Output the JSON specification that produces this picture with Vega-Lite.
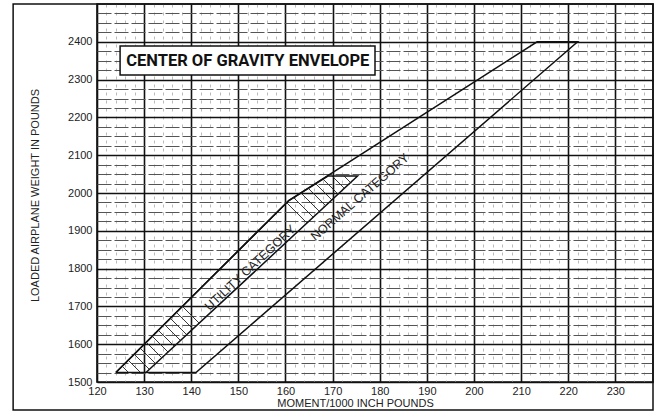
{
  "$schema": "https://vega.github.io/schema/vega-lite/v6.json",
  "width": 556,
  "height": 378,
  "autosize": {"type": "none"},
  "padding": {"left": 97, "top": 4, "right": 7, "bottom": 33},
  "background": "white",
  "config": {
    "view": {"stroke": "#111", "strokeWidth": 1.6},
    "font": "Liberation Sans"
  },
  "datasets": {
    "envelope": [
      {"env": "normal", "i": 1, "M": 124, "W": 1525},
      {"env": "normal", "i": 2, "M": 160.7, "W": 1980},
      {"env": "normal", "i": 3, "M": 213.4, "W": 2400},
      {"env": "normal", "i": 4, "M": 222, "W": 2400},
      {"env": "normal", "i": 5, "M": 141, "W": 1525},
      {"env": "normal", "i": 6, "M": 124, "W": 1525},
      {"env": "utility", "i": 1, "M": 124, "W": 1525},
      {"env": "utility", "i": 2, "M": 160.7, "W": 1980},
      {"env": "utility", "i": 3, "M": 169.0, "W": 2045},
      {"env": "utility", "i": 4, "M": 175.3, "W": 2045},
      {"env": "utility", "i": 5, "M": 130.4, "W": 1525}
    ],
    "hatch": [
      {"M": 125.35, "W": 1541.7, "M2": 126.70, "W2": 1525.0},
      {"M": 126.63, "W": 1557.6, "M2": 129.24, "W2": 1525.0},
      {"M": 127.91, "W": 1573.4, "M2": 131.12, "W2": 1533.3},
      {"M": 129.18, "W": 1589.3, "M2": 132.44, "W2": 1548.6},
      {"M": 130.46, "W": 1605.1, "M2": 133.76, "W2": 1563.9},
      {"M": 131.74, "W": 1620.9, "M2": 135.08, "W2": 1579.2},
      {"M": 133.01, "W": 1636.7, "M2": 136.40, "W2": 1594.5},
      {"M": 134.29, "W": 1652.6, "M2": 137.72, "W2": 1609.8},
      {"M": 135.57, "W": 1668.4, "M2": 139.04, "W2": 1625.1},
      {"M": 136.84, "W": 1684.2, "M2": 140.36, "W2": 1640.4},
      {"M": 138.12, "W": 1700.1, "M2": 141.68, "W2": 1655.7},
      {"M": 160.25, "W": 1974.4, "M2": 164.56, "W2": 1920.7},
      {"M": 161.72, "W": 1987.9, "M2": 165.88, "W2": 1936.0},
      {"M": 163.28, "W": 2000.2, "M2": 167.20, "W2": 1951.3},
      {"M": 164.84, "W": 2012.4, "M2": 168.52, "W2": 1966.6},
      {"M": 166.41, "W": 2024.7, "M2": 169.84, "W2": 1981.8},
      {"M": 167.97, "W": 2036.9, "M2": 171.17, "W2": 1997.1},
      {"M": 169.87, "W": 2045.0, "M2": 172.49, "W2": 2012.4},
      {"M": 172.42, "W": 2045.0, "M2": 173.81, "W2": 2027.7}
    ],
    "frame": [{"M": 102.2, "M2": 238, "W": 1426, "W2": 2500}],
    "box": [{"M": 124.9, "M2": 179.0, "W": 2312, "W2": 2389, "label": "CENTER OF GRAVITY ENVELOPE", "Mc": 152, "Wc": 2350.5}],
    "utilLabel": [{"M": 152.5, "W": 1802, "label": "UTILITY CATEGORY"}],
    "normLabel": [{"M": 175.8, "W": 1989, "label": "NORMAL CATEGORY"}]
  },
  "layer": [
    {
      "data": {"name": "envelope"},
      "mark": {"type": "line", "color": "#111", "strokeWidth": 1.5, "clip": false},
      "encoding": {
        "x": {
          "field": "M", "type": "quantitative",
          "scale": {"domain": [120, 238], "nice": false, "zero": false},
          "axis": {
            "title": "MOMENT/1000 INCH POUNDS",
            "values": [120,122,124,126,128,130,132,134,136,138,140,142,144,146,148,150,152,154,156,158,160,162,164,166,168,170,172,174,176,178,180,182,184,186,188,190,192,194,196,198,200,202,204,206,208,210,212,214,216,218,220,222,224,226,228,230,232,234,236],
            "tickCount": 200,
            "format": "d",
            "labelExpr": "datum.value % 10 === 0 ? datum.label : ''",
            "labelOverlap": false,
            "labelFlush": false,
            "labelBound": false,
            "labelFontSize": 11,
            "labelColor": "#222",
            "labelPadding": 3,
            "ticks": false,
            "domain": false,
            "grid": true,
            "gridColor": {"condition": {"test": "datum.value % 10 === 0", "value": "#111"}, "value": "#aaa"},
            "gridWidth": {"condition": {"test": "datum.value % 10 === 0", "value": 1.6}, "value": 0.8},
            "gridDash": {"condition": {"test": "datum.value % 10 === 0", "value": []}, "value": [3, 5]},
            "gridOpacity": 1,
            "titleFontSize": 11,
            "titleFontWeight": "normal",
            "titleColor": "#222",
            "titleX": 258,
            "titleY": 21,
            "titleBaseline": "middle",
            "titleAlign": "center"
          }
        },
        "y": {
          "field": "W", "type": "quantitative",
          "scale": {"domain": [1500, 2500], "nice": false, "zero": false},
          "axis": {
            "title": "LOADED AIRPLANE WEIGHT IN POUNDS",
            "values": [1500,1525,1550,1575,1600,1625,1650,1675,1700,1725,1750,1775,1800,1825,1850,1875,1900,1925,1950,1975,2000,2025,2050,2075,2100,2125,2150,2175,2200,2225,2250,2275,2300,2325,2350,2375,2400,2425,2450,2475],
            "tickCount": 200,
            "format": "d",
            "labelExpr": "datum.value % 100 === 0 ? datum.label : ''",
            "labelOverlap": false,
            "labelFlush": false,
            "labelBound": false,
            "labelFontSize": 11,
            "labelColor": "#222",
            "labelPadding": 5,
            "ticks": false,
            "domain": false,
            "grid": true,
            "gridColor": {"condition": {"test": "datum.value % 100 === 0", "value": "#111"}, "value": "#555"},
            "gridWidth": {"condition": {"test": "datum.value % 100 === 0", "value": 1.7}, "value": 1.1},
            "gridDash": {"condition": {"test": "datum.value % 100 === 0", "value": []}, "value": [14, 3]},
            "gridOpacity": 1,
            "titleFontSize": 11,
            "titleFontWeight": "normal",
            "titleColor": "#222",
            "titleX": -62,
            "titleY": 191,
            "titleAngle": -90,
            "titleBaseline": "middle",
            "titleAlign": "center"
          }
        },
        "detail": {"field": "env", "type": "nominal"},
        "order": {"field": "i", "type": "quantitative"}
      }
    },
    {
      "data": {"name": "hatch"},
      "mark": {"type": "rule", "color": "#222", "strokeWidth": 0.9},
      "encoding": {
        "x": {"field": "M", "type": "quantitative"},
        "x2": {"field": "M2"},
        "y": {"field": "W", "type": "quantitative"},
        "y2": {"field": "W2"}
      }
    },
    {
      "data": {"name": "frame"},
      "mark": {"type": "rect", "filled": false, "stroke": "#111", "strokeWidth": 1.5, "clip": false},
      "encoding": {
        "x": {"field": "M", "type": "quantitative"},
        "x2": {"field": "M2"},
        "y": {"field": "W", "type": "quantitative"},
        "y2": {"field": "W2"}
      }
    },
    {
      "data": {"name": "box"},
      "mark": {"type": "rect", "fill": "white", "stroke": "#111", "strokeWidth": 1.5},
      "encoding": {
        "x": {"field": "M", "type": "quantitative"},
        "x2": {"field": "M2"},
        "y": {"field": "W", "type": "quantitative"},
        "y2": {"field": "W2"}
      }
    },
    {
      "data": {"name": "box"},
      "mark": {"type": "text", "font": "Roboto", "fontWeight": "bold", "fontSize": 16.5, "color": "#111", "align": "center", "baseline": "middle"},
      "encoding": {
        "x": {"field": "Mc", "type": "quantitative"},
        "y": {"field": "Wc", "type": "quantitative"},
        "text": {"field": "label"}
      }
    },
    {
      "data": {"name": "utilLabel"},
      "mark": {"type": "text", "fontSize": 12.5, "color": "#222", "angle": 317, "align": "center", "baseline": "middle"},
      "encoding": {
        "x": {"field": "M", "type": "quantitative"},
        "y": {"field": "W", "type": "quantitative"},
        "text": {"field": "label"}
      }
    },
    {
      "data": {"name": "normLabel"},
      "mark": {"type": "text", "fontSize": 12.5, "color": "#222", "angle": 319, "align": "center", "baseline": "middle"},
      "encoding": {
        "x": {"field": "M", "type": "quantitative"},
        "y": {"field": "W", "type": "quantitative"},
        "text": {"field": "label"}
      }
    }
  ]
}
